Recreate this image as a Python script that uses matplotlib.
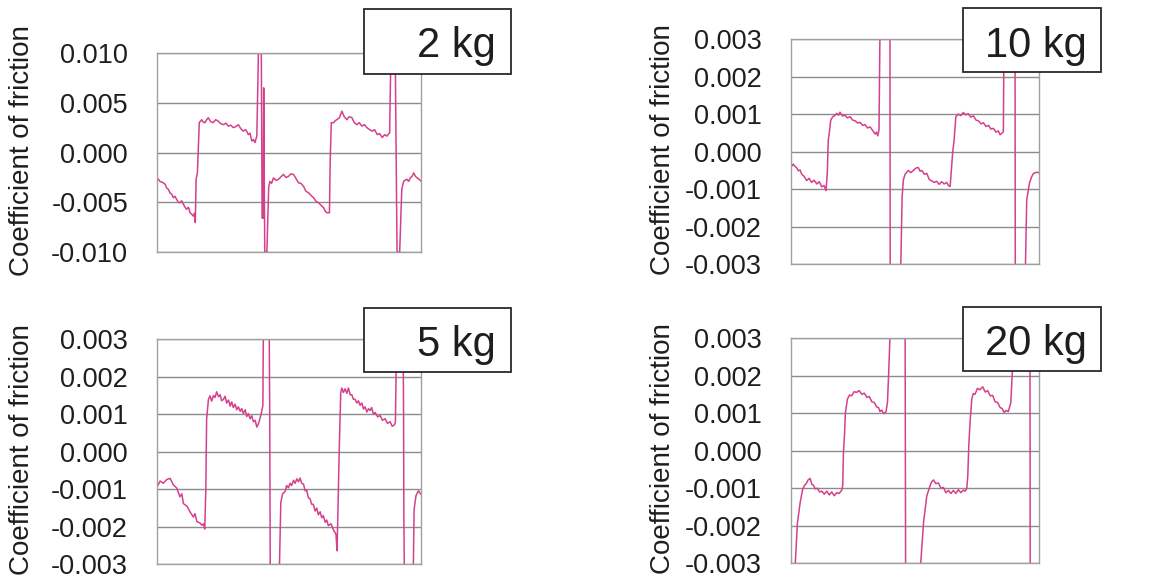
import matplotlib
matplotlib.use("Agg")
import matplotlib.pyplot as plt
from matplotlib.patches import Rectangle
from matplotlib.ticker import FormatStrFormatter, MultipleLocator

OUTPUT_FILE = "out.png"

# Friction traces, time as % of the record, coefficient in units of 1e-3
t_2kg = [0, 1.0, 2.3, 3.0, 3.5, 4.2, 4.8, 5.5, 6.1, 6.7, 7.3, 8.0, 8.6, 9.2, 9.9, 10.5, 11.1, 11.8,
         12.4, 13.0, 13.7, 14.1, 14.4, 14.7, 15.2, 15.9,
         16.8, 17.4, 18.1, 18.7, 19.3, 20.2, 21.2, 22.1, 23.1, 24.0, 25.0, 26.0, 26.9, 27.8, 28.8,
         29.7, 30.7, 31.6, 32.6, 33.5, 34.5, 35.1, 35.8, 36.4, 37.0, 37.7,
         38.3, 39.4, 39.7, 40.1, 40.3, 40.7, 41.5, 42.2,
         42.7, 43.3, 44.0, 45.0, 45.9, 46.8, 47.8, 48.7, 49.7, 50.6, 51.6, 52.5, 53.5, 54.4, 55.4,
         56.3, 57.3, 58.2, 59.2, 60.1, 61.1, 62.0, 63.0, 63.6, 64.2, 65.2,
         65.5, 65.9,
         66.8, 67.4, 68.0, 69.0, 69.9, 70.8, 71.8, 72.7, 73.7, 74.6, 75.6, 76.5, 77.5, 78.4, 79.4,
         80.4, 81.4, 82.3, 83.3, 84.2, 85.2, 86.1, 87.0, 88.0,
         88.5, 90.1, 90.8, 91.8, 92.6, 93.3, 94.0, 94.6, 95.2, 95.8, 96.5, 97.1, 97.8, 98.4, 99.2, 100]
cof_2kg = [-2.55, -2.9, -3.05, -3.2, -3.55, -3.7, -4.05, -4.2, -4.55, -4.4, -4.7, -5.0, -5.05, -4.85,
           -5.2, -5.5, -5.7, -5.5, -6.05, -6.2, -6.4, -6.1, -7.05, -2.7, -2.0, 3.0,
           3.3, 3.05, 3.0, 3.3, 3.5, 3.1, 3.0, 3.3, 3.15, 2.9, 2.8, 2.95, 2.65, 2.75, 2.5,
           2.6, 2.8, 2.4, 2.15, 2.3, 1.8, 1.95, 1.15, 1.3, 1.0, 1.65,
           10.0, 10.0, -6.6, -6.6, 6.5, -10.0, -10.0, -3.4,
           -2.9, -3.1, -2.55, -2.8, -2.7, -2.45, -2.2, -2.5, -2.4, -2.15, -2.2, -2.6, -3.05, -3.1, -3.4,
           -3.9, -4.05, -4.3, -4.55, -4.9, -5.05, -5.3, -5.55, -5.9, -6.05, -6.05,
           -0.7, 3.0,
           3.0, 3.2, 3.3, 3.5, 4.15, 3.6, 3.3, 3.6, 3.5, 3.0, 2.8, 3.0, 2.65, 2.8, 2.5,
           2.3, 2.15, 2.3, 1.8, 1.9, 1.5, 1.8, 1.65, 2.0,
           10.4, 10.4, -10.0, -10.0, -3.7, -2.9, -2.75, -2.7, -2.9, -2.55, -2.4, -2.05, -2.4, -2.55, -2.7, -2.9]

t_10kg = [0.3, 1.0, 1.7, 2.4, 3.1, 3.8, 4.4, 5.4, 6.4, 7.4, 8.4, 9.4, 10.5, 11.5, 12.5, 13.4, 14.2,
          14.7, 15.1, 15.5, 16.1, 16.9,
          17.7, 18.5, 19.2, 19.8, 20.8, 21.8, 22.8, 23.9, 24.9, 25.9, 26.9, 27.9, 28.9, 29.9, 30.9,
          31.9, 32.9, 33.9, 34.5, 35.0, 35.5,
          35.9, 39.9, 40.0, 44.0, 44.3, 44.8, 45.3, 46.0, 47.3, 48.3, 49.3, 50.3, 51.3, 52.0, 52.7,
          53.7, 54.7, 55.7, 56.7, 57.7, 58.7, 59.7, 60.7, 61.7, 62.7, 63.4, 64.1,
          64.7, 65.1, 65.7, 66.4, 67.4, 68.4, 69.4, 70.4, 71.4, 72.4, 73.5, 74.5, 75.5, 76.5, 77.5,
          78.5, 79.5, 80.5, 81.5, 82.5, 83.5, 84.2, 84.9, 85.5,
          85.8, 90.2, 90.3, 94.1, 94.4, 94.9, 96.0, 96.8, 97.6, 98.8, 100]
cof_10kg = [-0.40, -0.33, -0.39, -0.43, -0.51, -0.49, -0.60, -0.66, -0.77, -0.71, -0.82, -0.76, -0.86,
            -0.80, -0.94, -0.90, -1.04,
            -0.58, 0.31, 0.49, 0.84, 0.93,
            0.96, 1.02, 0.97, 1.05, 0.95, 0.97, 0.90, 0.93, 0.84, 0.82, 0.76, 0.78, 0.70, 0.72, 0.63,
            0.66, 0.57, 0.47, 0.52, 0.42, 0.58,
            3.3, 3.3, -3.3, -3.3, -2.9, -1.2, -0.75, -0.60, -0.50, -0.56, -0.50, -0.44, -0.42, -0.52, -0.50,
            -0.60, -0.58, -0.74, -0.78, -0.82, -0.79, -0.87, -0.80, -0.86, -0.82, -0.90, -0.93,
            -0.40, -0.04, 0.31, 0.93, 1.00, 0.96, 1.04, 0.98, 1.01, 0.92, 0.95, 0.84, 0.82, 0.74, 0.77,
            0.67, 0.70, 0.60, 0.62, 0.52, 0.55, 0.45, 0.49, 0.53,
            3.3, 3.3, -3.3, -3.3, -3.0, -1.29, -0.84, -0.68, -0.58, -0.55, -0.56]

t_5kg = [0.3, 1.3, 2.5, 3.8, 5.1, 6.3, 7.6, 8.8, 9.5, 10.1, 11.4, 12.0, 12.6, 13.9, 14.5, 15.2, 16.4,
         17.1, 17.7, 18.2,
         18.6, 18.9, 19.6, 20.2, 20.8, 21.5, 22.1, 22.7, 23.4, 24.0, 24.6, 25.3, 25.9, 26.5, 27.2,
         27.8, 28.4, 29.0, 29.7, 30.3, 30.9, 31.6, 32.2, 32.8, 33.5, 34.1, 34.7, 35.4, 36.0, 36.6,
         37.3, 37.9, 38.5, 39.4, 40.2,
         40.4, 42.6, 42.8, 43.0, 46.1, 46.5, 47.0, 47.7, 48.6, 49.2, 49.9, 50.5, 51.1, 51.8, 52.4,
         53.1, 53.7, 54.3, 54.9, 55.6, 56.2, 56.8, 57.4, 58.1, 58.7, 59.3, 60.0, 60.6, 61.2, 61.9,
         62.5, 63.1, 63.8, 64.4, 65.0, 66.0, 66.9, 67.9, 68.3, 68.6,
         69.1, 69.7, 70.1, 70.7, 71.3, 72.0, 72.6, 73.3, 73.9, 74.5, 75.1, 75.8, 76.4, 77.0, 77.7,
         78.3, 78.9, 79.6, 80.2, 80.8, 81.4, 82.1, 82.7, 83.7, 84.6, 85.5, 86.5, 87.4, 88.4, 89.2,
         90.0, 90.4,
         90.9, 93.3, 93.5, 93.6, 93.8, 96.5, 97.2, 97.5, 98.2, 99.1, 100]
cof_5kg = [-0.91, -0.78, -0.84, -0.74, -0.71, -0.88, -0.97, -1.20, -1.12, -1.38, -1.45, -1.52, -1.60,
           -1.74, -1.65, -1.86, -1.90, -1.96, -1.92, -2.06,
           -1.0, 0.87, 1.40, 1.49, 1.35, 1.50, 1.45, 1.60, 1.47, 1.52, 1.36, 1.40, 1.48, 1.30, 1.38,
           1.22, 1.33, 1.18, 1.27, 1.12, 1.20, 1.08, 1.15, 1.02, 1.12, 0.94, 1.02, 0.88, 0.96, 0.80,
           0.84, 0.66, 0.74, 0.96, 1.23,
           3.3, 3.3, 1.1, -3.3, -3.3, -3.0, -1.35, -1.12, -1.06, -0.90, -0.96, -0.84, -0.90, -0.76, -0.84,
           -0.72, -0.80, -0.70, -0.84, -0.86, -1.04, -1.02, -1.22, -1.26, -1.40, -1.40, -1.58, -1.50,
           -1.68, -1.60, -1.76, -1.70, -1.88, -1.82, -1.97, -1.92, -2.08, -2.20, -2.64, -1.71,
           -0.02, 1.58, 1.70, 1.58, 1.68, 1.56, 1.70, 1.52, 1.52, 1.40, 1.40, 1.30, 1.36, 1.24, 1.30,
           1.14, 1.20, 1.06, 1.15, 1.10, 1.18, 1.00, 1.05, 0.93, 0.97, 0.84, 0.88, 0.76, 0.80, 0.68,
           0.72, 0.78,
           3.3, 3.3, 0.9, -1.7, -3.3, -3.3, -3.0, -1.53, -1.17, -1.04, -1.13]

t_20kg = [0.0, 1.6, 2.7, 3.8, 4.8, 5.5, 6.2, 7.0, 7.8, 8.5, 9.1, 9.9, 10.7, 11.6, 12.5, 13.5, 14.5,
          15.5, 16.5, 17.5, 18.5, 19.5, 20.5, 20.9,
          21.2, 21.6, 22.0, 22.8, 23.6, 24.5, 25.5, 26.5, 27.5, 28.6, 29.6, 30.6, 31.6, 32.6, 33.6,
          34.6, 35.3, 35.9, 36.6, 37.3, 38.3, 38.9, 39.4, 39.9, 40.2,
          46.0, 46.2, 52.0, 52.3, 53.4, 54.7, 55.8, 56.6, 57.4, 58.4, 59.4, 60.4, 61.4, 62.4, 63.4,
          64.4, 65.4, 66.4, 67.4, 68.4, 69.4, 70.1, 70.8, 71.2,
          71.6, 72.1, 72.8, 73.4, 74.1, 75.1, 76.1, 77.2, 78.2, 79.2, 80.2, 81.2, 82.2, 83.2, 84.2,
          85.0, 85.8, 86.6, 87.5, 88.5, 89.1, 89.5, 89.8,
          96.2, 96.3, 100]
cof_20kg = [-3.3, -3.3, -1.92, -1.38, -1.03, -0.93, -0.88, -0.78, -0.74, -0.90, -0.92, -1.02, -1.00,
            -1.10, -1.08, -1.16, -1.08, -1.18, -1.10, -1.20, -1.12, -1.14, -1.05, -0.94,
            -0.05, 0.39, 1.01, 1.37, 1.48, 1.46, 1.57, 1.55, 1.60, 1.50, 1.53, 1.42, 1.44, 1.30, 1.28,
            1.16, 1.15, 1.04, 1.08, 0.99, 1.03, 1.28, 2.08, 3.02, 3.3,
            3.3, -3.3, -3.3, -2.98, -1.92, -1.21, -0.98, -0.84, -0.78, -0.88, -0.86, -1.00, -0.98,
            -1.12, -1.06, -1.14, -1.06, -1.14, -1.04, -1.12, -1.05, -1.08, -1.00, -0.67,
            0.12, 0.75, 1.37, 1.52, 1.50, 1.66, 1.62, 1.70, 1.56, 1.60, 1.46, 1.47, 1.30, 1.28, 1.15,
            1.12, 1.02, 1.07, 1.04, 1.28, 2.08, 3.02, 3.3,
            3.3, -3.3, -3.3]

loads = ["2 kg", "10 kg", "5 kg", "20 kg"]
y_limits = [0.010, 0.003, 0.003, 0.003]
y_steps = [0.005, 0.001, 0.001, 0.001]

# Layout in figure fractions: axes rect, load box rect, load text anchor
AXES_RECTS = [
    [0.1363, 0.5655, 0.2288, 0.3431],
    [0.6852, 0.5443, 0.2155, 0.3885],
    [0.1358, 0.0271, 0.2288, 0.3879],
    [0.6852, 0.0288, 0.2155, 0.3885],
]
BOX_RECTS = [
    [0.3157, 0.8724, 0.1271, 0.1115],
    [0.8348, 0.8753, 0.1191, 0.1103],
    [0.3157, 0.3581, 0.1271, 0.1103],
    [0.8348, 0.3603, 0.1191, 0.1098],
]
TEXT_POS = [(0.4298, 0.9017), (0.9420, 0.9017), (0.4298, 0.3868), (0.9420, 0.3879)]
LABEL_X = [-0.462, -0.462, -0.462, -0.462]

TRACE_COLOR = "#d5408c"
GRID_COLOR = "#8c8c8c"
TEXT_COLOR = "#1e1e1e"

plt.rcParams["font.family"] = ["Liberation Sans", "DejaVu Sans"]


def draw_panel(fig, idx, t, cof):
    ax = fig.add_axes(AXES_RECTS[idx])
    lim = y_limits[idx]
    ax.plot(t, [c * 1e-3 for c in cof], color=TRACE_COLOR, lw=1.1)
    ax.set_xlim(0, 100)
    ax.set_ylim(-lim, lim)
    ax.yaxis.set_major_locator(MultipleLocator(y_steps[idx]))
    ax.yaxis.set_major_formatter(FormatStrFormatter("%.3f"))
    ax.set_xticks([])
    ax.tick_params(axis="y", length=0, pad=21, labelsize=19.5, labelcolor=TEXT_COLOR)
    ax.grid(axis="y", color=GRID_COLOR, lw=1.0)
    for spine in ax.spines.values():
        spine.set_color("#a0a0a0")
        spine.set_linewidth(1.0)
    ax.set_ylabel("Coefficient of friction", fontsize=20, color=TEXT_COLOR)
    ax.yaxis.set_label_coords(LABEL_X[idx], 0.51)

    # load label sits on top of the upper-right corner of the plot
    box = Rectangle(BOX_RECTS[idx][:2], BOX_RECTS[idx][2], BOX_RECTS[idx][3],
                    transform=fig.transFigure, facecolor="white", edgecolor="#2a2a2a",
                    lw=1.3, zorder=5)
    fig.add_artist(box)
    fig.text(TEXT_POS[idx][0], TEXT_POS[idx][1], loads[idx], ha="right", va="baseline",
             fontsize=30, color=TEXT_COLOR, zorder=6)


def main():
    fig = plt.figure(figsize=(11.54, 5.8), dpi=100)
    traces = [(t_2kg, cof_2kg), (t_10kg, cof_10kg), (t_5kg, cof_5kg), (t_20kg, cof_20kg)]
    for idx, (t, cof) in enumerate(traces):
        draw_panel(fig, idx, t, cof)
    fig.savefig(OUTPUT_FILE, dpi=100)


if __name__ == "__main__":
    main()
